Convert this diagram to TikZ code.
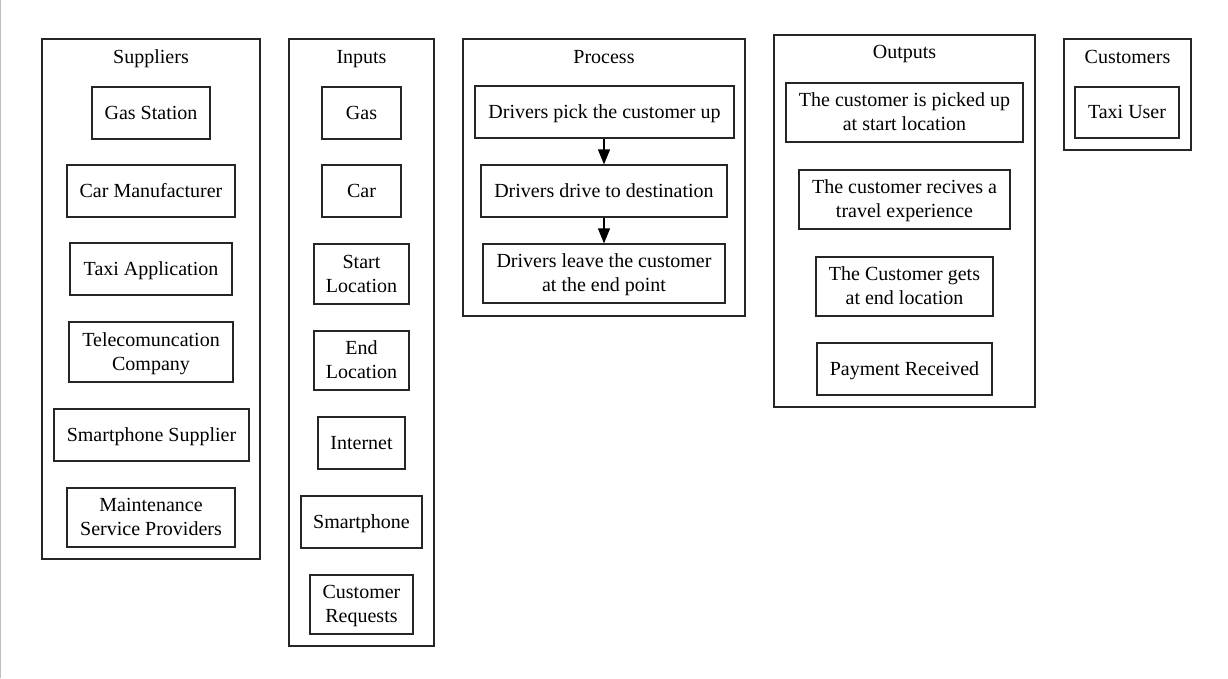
\documentclass[tikz,border=0pt]{standalone}
\usepackage{fontspec}
\setmainfont{Liberation Serif}
\usetikzlibrary{arrows.meta}
\begin{document}
\begin{tikzpicture}[x=1pt,y=-1pt,
  box/.style={draw=black!85,line width=1.2pt,inner sep=0pt,align=center,
    text height=15pt,text depth=2.4pt,font=\fontsize{20}{24}\selectfont},
  box2/.style={box,text height=39pt},
  group/.style={draw=black!85,line width=1.2pt,inner sep=0pt},
  title/.style={inner sep=0pt,text height=15pt,text depth=2.4pt,font=\fontsize{20}{24}\selectfont},
  flow/.style={-{Triangle[length=15pt,width=12pt]},line width=1.2pt,black}]
\useasboundingbox (0,0) rectangle (1228,678);
\draw[gray!50,line width=1.2pt] (0.6,0) -- (0.6,678);
% Suppliers
\node[group,minimum width=218,minimum height=520] (sup) at (151,299) {};
\node[title] (supt) at (151,57) {Suppliers};
\node[box,minimum width=118,minimum height=52] (s1) at (151,113) {Gas Station};
\node[box,minimum width=168,minimum height=52] (s2) at (151,191) {Car Manufacturer};
\node[box,minimum width=162,minimum height=52] (s3) at (151,269) {Taxi Application};
\node[box2,minimum width=164,minimum height=60] (s4) at (151,352) {Telecomuncation\\Company};
\node[box,minimum width=195,minimum height=52] (s5) at (151.5,435) {Smartphone Supplier};
\node[box2,minimum width=168,minimum height=59] (s6) at (151,517.5) {Maintenance\\Service Providers};
% Inputs
\node[group,minimum width=145,minimum height=607] (inp) at (361.5,342.5) {};
\node[title] (inpt) at (361.5,57) {Inputs};
\node[box,minimum width=79,minimum height=52] (i1) at (361.5,113) {Gas};
\node[box,minimum width=79,minimum height=52] (i2) at (361.5,191) {Car};
\node[box2,minimum width=95,minimum height=60] (i3) at (361.5,274) {Start\\Location};
\node[box2,minimum width=95,minimum height=59] (i4) at (361.5,360.5) {End\\Location};
\node[box,minimum width=87,minimum height=52] (i5) at (361.5,443) {Internet};
\node[box,minimum width=121,minimum height=52] (i6) at (361.5,522) {Smartphone};
\node[box2,minimum width=103,minimum height=59] (i7) at (361.5,604.5) {Customer\\Requests};
% Process
\node[group,minimum width=282,minimum height=277] (pro) at (604,177.5) {};
\node[title] (prot) at (604,57) {Process};
\node[box,minimum width=259,minimum height=52] (p1) at (604.5,112) {Drivers pick the customer up};
\node[box,minimum width=246,minimum height=52] (p2) at (604,191) {Drivers drive to destination};
\node[box2,minimum width=242,minimum height=59] (p3) at (604,273.5) {Drivers leave the customer\\at the end point};
\draw[flow] (p1.south -| p2.north) -- (p2.north);
\draw[flow] (p2.south) -- (p3.north);
% Outputs
\node[group,minimum width=261,minimum height=372] (out) at (904.5,221) {};
\node[title] (outt) at (904.5,52) {Outputs};
\node[box2,minimum width=237,minimum height=59] (o1) at (904.5,112.5) {The customer is picked up\\at start location};
\node[box2,minimum width=211,minimum height=59] (o2) at (904.5,199.5) {The customer recives a\\travel experience};
\node[box2,minimum width=177,minimum height=59] (o3) at (904.5,286.5) {The Customer gets\\at end location};
\node[box,minimum width=175,minimum height=52] (o4) at (904.5,369) {Payment Received};
% Customers
\node[group,minimum width=127,minimum height=111] (cus) at (1127.5,94.5) {};
\node[title] (cust) at (1127.5,57) {Customers};
\node[box,minimum width=104,minimum height=51] (c1) at (1127,112.5) {Taxi User};
\end{tikzpicture}
\end{document}
